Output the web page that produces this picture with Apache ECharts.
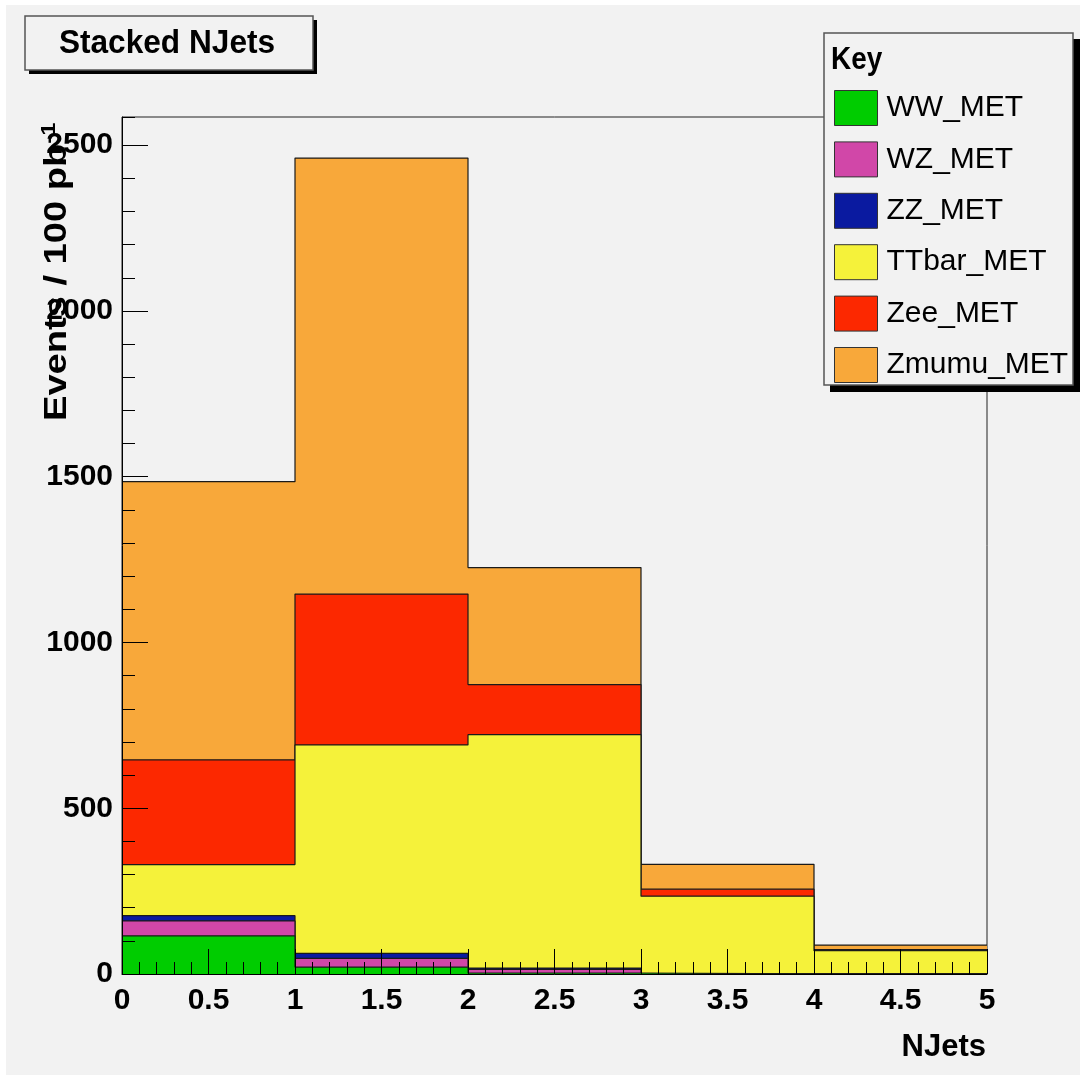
<!DOCTYPE html>
<html>
<head>
<meta charset="utf-8">
<script src="https://cdn.jsdelivr.net/npm/echarts@6/dist/echarts.min.js"></script>
<style>
html,body{margin:0;padding:0;background:#ffffff;}
#chart{width:1080px;height:1078px;}
</style>
</head>
<body>
<div id="chart"></div>
<script>
// Bin edges (NJets) and per-sample contributions (events / 100 pb^-1)
const binEdges = [0, 1, 2, 3, 4, 5];
const seriesNames = ['WW_MET', 'WZ_MET', 'ZZ_MET', 'TTbar_MET', 'Zee_MET', 'Zmumu_MET'];
const WW_MET    = [115, 21, 3, 0.3, 0.1];
const WZ_MET    = [45, 26, 11, 0.3, 0.1];
const ZZ_MET    = [16, 15, 4, 0.2, 0.1];
const TTbar_MET = [154, 629, 704, 234, 70];
const Zee_MET   = [316, 455, 151, 21, 3];
const Zmumu_MET = [839, 1315, 353, 75, 14];
const colors = ['#00cc00', '#d147a8', '#0a1aa0', '#f5f23a', '#fc2800', '#f8a83a'];
const xTickLabels = ['0', '0.5', '1', '1.5', '2', '2.5', '3', '3.5', '4', '4.5', '5'];

const samples = [WW_MET, WZ_MET, ZZ_MET, TTbar_MET, Zee_MET, Zmumu_MET];
// cumulative stacks
const cum = [];
samples.forEach((s, i) => {
  cum.push(s.map((v, b) => v + (i > 0 ? cum[i - 1][b] : 0)));
});

// step series: draw largest cumulative first, smaller on top
const series = [];
for (let i = samples.length - 1; i >= 0; i--) {
  const pts = binEdges.map((e, b) => [e, cum[i][Math.min(b, cum[i].length - 1)]]);
  series.push({
    name: seriesNames[i],
    type: 'line',
    step: 'end',
    data: pts,
    symbol: 'none',
    color: colors[i],
    lineStyle: { color: '#1a1a1a', width: 1.2 },
    areaStyle: { color: colors[i], opacity: 1 },
    itemStyle: { color: colors[i] },
    z: 2 + (samples.length - i),
    animation: false,
    silent: true
  });
}

const chart = echarts.init(document.getElementById('chart'), null, { renderer: 'canvas' });
const font = 'Liberation Sans, Arial, Helvetica, sans-serif';

chart.setOption({
  animation: false,
  backgroundColor: 'transparent',
  graphic: [
    { type: 'rect', z: -10, shape: { x: 6, y: 5, width: 1074, height: 1070 }, style: { fill: '#f2f2f2' } },
    // title box shadow + box
    { type: 'rect', z: 50, shape: { x: 29, y: 20, width: 288, height: 54 }, style: { fill: '#000' } },
    { type: 'rect', z: 51, shape: { x: 25, y: 16, width: 288, height: 54 }, style: { fill: '#f2f2f2', stroke: '#555', lineWidth: 1.5 } },
    { type: 'text', z: 52, x: 167, y: 44, scaleX: 0.93,
      style: { text: 'Stacked NJets', font: 'bold 34px ' + font, fill: '#000', textAlign: 'center', textVerticalAlign: 'middle' } },
    // legend box shadow + box
    { type: 'rect', z: 50, shape: { x: 830, y: 39, width: 250, height: 353 }, style: { fill: '#000' } },
    { type: 'rect', z: 51, shape: { x: 824, y: 33, width: 249, height: 352 }, style: { fill: '#f2f2f2', stroke: '#555', lineWidth: 1.5 } },
    { type: 'text', z: 52, x: 831, y: 60, scaleX: 0.9,
      style: { text: 'Key', font: 'bold 31px ' + font, fill: '#000', textAlign: 'left', textVerticalAlign: 'middle' } },
    // y-axis title (rotated)
    { type: 'text', z: 60, x: 57, y: 421, rotation: Math.PI / 2, scaleX: 1.19,
      style: {
        text: '{m|Events / 100 pb}{s|-1}',
        rich: {
          m: { font: 'bold 32px ' + font, fill: '#000' },
          s: { font: 'bold 20px ' + font, fill: '#000', verticalAlign: 'top', padding: [0, 0, 16, 0] }
        },
        textAlign: 'left', textVerticalAlign: 'middle'
      } },
    // x-axis title
    { type: 'text', z: 60, x: 986, y: 1047,
      style: { text: 'NJets', font: 'bold 31px ' + font, fill: '#000', textAlign: 'right', textVerticalAlign: 'middle' } }
  ],
  legend: {
    orient: 'vertical',
    left: 834,
    top: 90,
    padding: 0,
    itemWidth: 43,
    itemHeight: 35,
    itemGap: 15.4,
    icon: 'rect',
    z: 60,
    data: seriesNames.map((n, i) => ({ name: n, itemStyle: { color: colors[i], borderColor: '#333', borderWidth: 1 } })),
    textStyle: { fontFamily: font, fontSize: 30, color: '#000', lineHeight: 35, padding: [0, 0, 0, 4] },
    selectedMode: false
  },
  grid: {
    left: 122, right: 93, top: 117, bottom: 104,
    show: true, borderColor: '#222', borderWidth: 1, backgroundColor: '#f2f2f2', z: 0
  },
  xAxis: {
    type: 'value', min: 0, max: 5, interval: 0.5,
    z: 20,
    axisLine: { show: true, onZero: false, lineStyle: { color: '#000', width: 1 } },
    axisTick: { show: true, inside: true, length: 25, lineStyle: { color: '#000', width: 1 } },
    minorTick: { show: true, splitNumber: 5, length: 12, lineStyle: { color: '#000', width: 1 } },
    splitLine: { show: false },
    axisLabel: {
      fontFamily: font, fontWeight: 'bold', fontSize: 30, color: '#000', margin: 12,
      formatter: (v) => xTickLabels[Math.round(v * 2)]
    }
  },
  yAxis: [
    {
      type: 'value', min: 0, max: 2585, interval: 500,
      z: 20,
      axisLine: { show: true, onZero: false, lineStyle: { color: '#000', width: 1 } },
      axisTick: { show: true, inside: true, length: 26, lineStyle: { color: '#000', width: 1 } },
      splitLine: { show: false },
      axisLabel: { fontFamily: font, fontWeight: 'bold', fontSize: 30, color: '#000', margin: 9, showMaxLabel: false,
        formatter: (v) => String(v) }
    },
    {
      type: 'value', min: 0, max: 2585, interval: 100, position: 'left',
      z: 20,
      axisLine: { show: false },
      axisTick: { show: true, inside: true, length: 13, lineStyle: { color: '#000', width: 1 } },
      splitLine: { show: false },
      axisLabel: { show: false }
    }
  ],
  series: series
});
</script>
</body>
</html>
